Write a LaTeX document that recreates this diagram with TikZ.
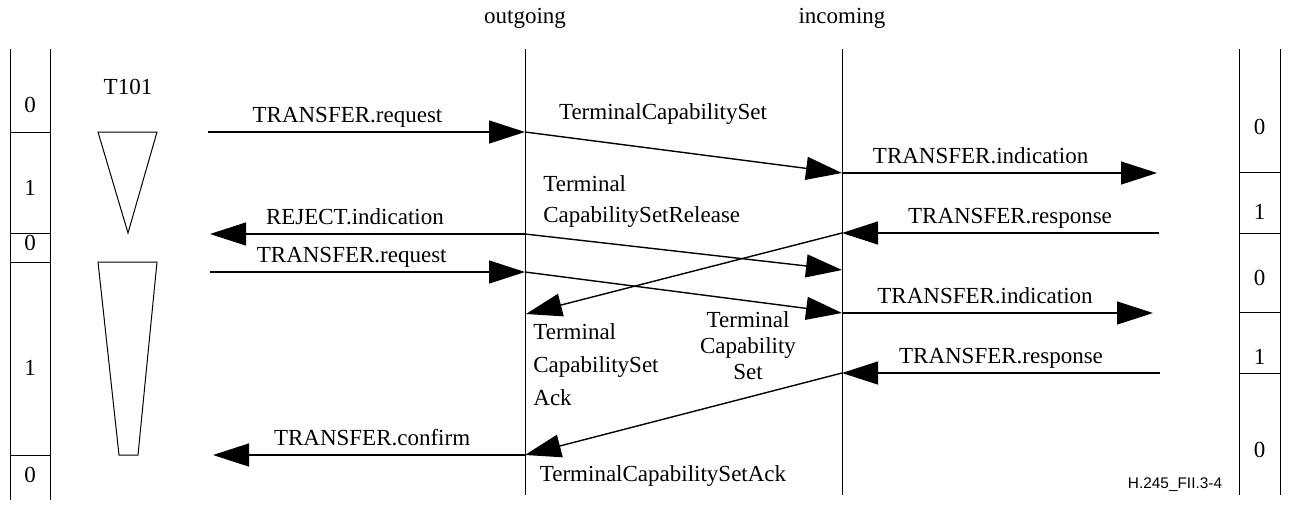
\documentclass[tikz,border=0pt]{standalone}
\usepackage{fontspec}
\setmainfont{Liberation Serif}
\newfontfamily\figfont{Liberation Sans}
\usetikzlibrary{arrows.meta, positioning}
\tikzset{
    msg/.style={
           -{Triangle[length=18pt,width=11.5pt]},
           line width=0.7pt,
           },
    lbl/.style={
           inner sep=2pt,
           text height=0.7em,
           text depth=0.25em,
           },
    life/.style={line width=0.5pt},
}
\newcommand{\MsgTransReq}{TRANSFER.request}
\newcommand{\MsgTransInd}{TRANSFER.indication}
\newcommand{\MsgTransRsp}{TRANSFER.response}
\newcommand{\MsgTransCnf}{TRANSFER.confirm}
\newcommand{\MsgRejectInd}{REJECT.indication}
\newcommand{\PduTcs}{TerminalCapabilitySet}
\newcommand{\PduTcsAck}{TerminalCapabilitySetAck}

\begin{document}
\begin{tikzpicture}[x=0.5pt, y=-0.5pt, font=\fontsize{11.5}{14}\selectfont]
      \useasboundingbox (0,0) rectangle (1290,504);
      % entities
      \node (OUT) at (525,18) {outgoing};
      \node (IN)  at (842,18) {incoming};
      \coordinate (outTop) at (525,49);
      \coordinate (outBot) at (525,495);
      \coordinate (inTop)  at (842,49);
      \coordinate (inBot)  at (842,495);
      \draw[life] (outTop) -- (outBot);
      \draw[life] (inTop) -- (inBot);
      % outgoing state column
      \draw[life] (10,49) -- (10,500) (50,49) -- (50,500);
      \foreach \y in {132,233,262,455} \draw[life] (10,\y) -- (50,\y);
      \foreach \y/\d [count=\i] in {105/0,188/1,243/0,368/1,475/0}
            \node (L\i) at (30,\y) {\d};
      % incoming state column
      \draw[life] (1239,49) -- (1239,495) (1280,49) -- (1280,495);
      \foreach \y in {172,233,312,373} \draw[life] (1239,\y) -- (1280,\y);
      \foreach \y/\d [count=\i] in {127/0,212/1,278/0,357/1,450/0}
            \node (R\i) at (1259.5,\y) {\d};
      % timer T101
      \node (T) at (128,87) {T101};
      \draw[life] (98,132) -- (157,132) -- (128,233) -- cycle;
      \draw[life] (98,262) -- (157,262) -- (138,455) -- (119,455) -- cycle;
      % points on the lines
      \coordinate (a1) at (208,132);  \coordinate (o1) at (525,132);
      \coordinate (i1) at (842,173);  \coordinate (b1) at (1157,173);
      \coordinate (b2) at (1159,233); \coordinate (i2) at (842,233);
      \coordinate (o2) at (525,234);  \coordinate (a2) at (210,234);
      \coordinate (i3) at (842,270);
      \coordinate (a3) at (210,272);  \coordinate (o3) at (525,272);
      \coordinate (o4) at (526,314);
      \coordinate (i4) at (842,313);  \coordinate (b4) at (1153,313);
      \coordinate (b5) at (1160,373); \coordinate (i5) at (842,373);
      \coordinate (o5) at (525,455);  \coordinate (a5) at (213,455);
      % messages
      \path (a1) edge[msg] node[lbl, above, pos=0.44] (m1) {\MsgTransReq} (o1);
      \path (o1) edge[msg] (i1);
      \path (i1) edge[msg] node[lbl, above, pos=0.44] (m2) {\MsgTransInd} (b1);
      \path (b2) edge[msg] node[lbl, above, pos=0.47] (m3) {\MsgTransRsp} (i2);
      \path (i2) edge[msg] (o4);
      \path (o2) edge[msg] node[lbl, above, pos=0.54] (m4) {\MsgRejectInd} (a2);
      \path (o2) edge[msg] (i3);
      \path (a3) edge[msg] node[lbl, above, pos=0.45] (m5) {\MsgTransReq} (o3);
      \path (o3) edge[msg] (i4);
      \path (i4) edge[msg] node[lbl, above, pos=0.46] (m6) {\MsgTransInd} (b4);
      \path (b5) edge[msg] node[lbl, above, pos=0.5] (m7) {\MsgTransRsp} (i5);
      \path (i5) edge[msg] (o5);
      \path (o5) edge[msg] node[lbl, above, pos=0.49] (m8) {\MsgTransCnf} (a5);
      % pdu labels
      \node[lbl] (p1) at (663,115) {\PduTcs};
      \node[inner sep=0, anchor=west, align=left, font=\fontsize{11.5}{15.5}\selectfont]
            (p2) at (543,201) {Terminal\\CapabilitySetRelease};
      \node[inner sep=0, anchor=west, align=left, font=\fontsize{11.5}{16.5}\selectfont]
            (p3) at (533,365) {Terminal\\CapabilitySet\\Ack};
      \node[inner sep=0, align=center, font=\fontsize{11.5}{13}\selectfont]
            (p4) at (748,346) {Terminal\\Capability\\Set};
      \node[lbl] (p5) at (663,477) {\PduTcsAck};
      \node[font=\figfont\fontsize{7.7}{9}\selectfont] (fig) at (1175,485) {H.245\_FII.3-4};
\end{tikzpicture}
\end{document}
